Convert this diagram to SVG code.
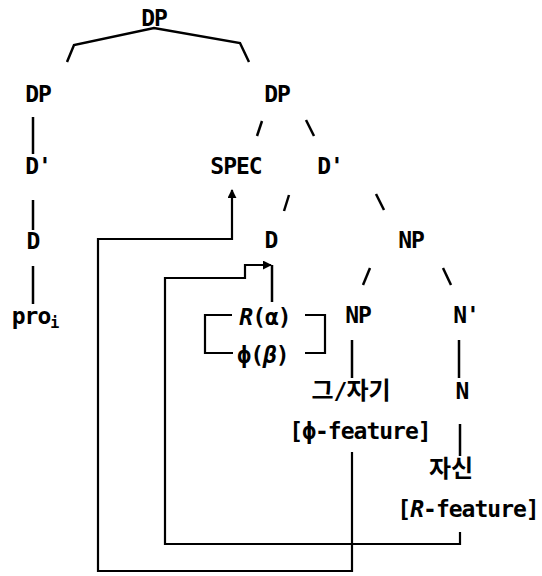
<svg xmlns="http://www.w3.org/2000/svg" width="542" height="576" viewBox="0 0 542 576">
<defs>
<style>
.t{font-family:"DejaVu Sans Mono","Noto Sans CJK KR",monospace;font-weight:bold;font-size:23px;letter-spacing:-1px;fill:#000;text-anchor:middle}
.k{font-family:"Noto Sans CJK KR",sans-serif;font-size:24px;font-weight:bold;letter-spacing:0}
.i{font-style:italic}
.e{fill:none;stroke:#000;stroke-width:2.5;stroke-linecap:butt}
.c{fill:none;stroke:#000;stroke-width:2.2;stroke-linejoin:miter}
</style>
<marker id="ah" viewBox="0 0 10 10" refX="9" refY="5" markerWidth="9" markerHeight="9" markerUnits="userSpaceOnUse" orient="auto">
<path d="M0,0 L10,5 L0,10 z" fill="#000"/>
</marker>
</defs>
<rect width="542" height="576" fill="#fff"/>

<g id="edges">
<polyline class="e" points="67,62 74,45 154,28 240,43 249,62"/>
<line class="e" x1="33" y1="117" x2="33" y2="154"/>
<line class="e" x1="33" y1="200" x2="33" y2="230"/>
<line class="e" x1="33" y1="266" x2="33" y2="304"/>
<line class="e" x1="262" y1="121" x2="257" y2="136"/>
<line class="e" x1="306" y1="120" x2="314" y2="136"/>
<line class="e" x1="289" y1="195" x2="284" y2="211"/>
<line class="e" x1="376" y1="194" x2="384" y2="210"/>
<line class="e" x1="370" y1="268" x2="363" y2="285"/>
<line class="e" x1="443" y1="268" x2="451" y2="285"/>
<line class="e" x1="272" y1="265" x2="272" y2="302"/>
<line class="e" x1="352" y1="340" x2="352" y2="378"/>
<line class="e" x1="459" y1="340" x2="459" y2="378"/>
<line class="e" x1="460" y1="424" x2="460" y2="456"/>
<polyline class="c" points="232,315 205,315 205,353 233,353"/>
<polyline class="c" points="305,315 325,315 325,353 305,353"/>
</g>

<g id="connectors">
<polyline class="c" points="352,452 352,571 98,571 98,239 232,239 232,190" marker-end="url(#ah)"/>
<polyline class="c" points="460,532 460,544 165,544 165,278 245,278 245,265 271,265" marker-end="url(#ah)"/>
</g>

<g id="dp-top"><text class="t" x="154" y="26">DP</text></g>
<g id="dp-left"><text class="t" x="38" y="102">DP</text></g>
<g id="dbar-left"><text class="t" x="38" y="174">D'</text></g>
<g id="d-left"><text class="t" x="33" y="249">D</text></g>
<g id="pro"><text class="t" x="35" y="324">pro<tspan font-size="15" dy="4">i</tspan></text></g>
<g id="dp-right"><text class="t" x="277" y="102">DP</text></g>
<g id="spec"><text class="t" x="236" y="174">SPEC</text></g>
<g id="dbar-right"><text class="t" x="330" y="174">D'</text></g>
<g id="d-right"><text class="t" x="271" y="248">D</text></g>
<g id="np-top"><text class="t" x="411" y="248">NP</text></g>
<g id="features"><text class="t" x="265" y="325"><tspan class="i">R</tspan>(α)</text>
<text class="t" x="263" y="363">ϕ(<tspan class="i">β</tspan>)</text></g>
<g id="np-low"><text class="t" x="358" y="323">NP</text></g>
<g id="nbar"><text class="t" x="466" y="323">N'</text></g>
<g id="geu"><text class="t" x="351" y="399"><tspan class="k">그</tspan>/<tspan class="k">자기</tspan></text></g>
<g id="n"><text class="t" x="462" y="399">N</text></g>
<g id="phi-feat"><text class="t" x="360" y="439">[ϕ-feature]</text></g>
<g id="jasin"><text class="t" x="451" y="477"><tspan class="k">자신</tspan></text></g>
<g id="r-feat"><text class="t" x="468" y="517">[<tspan class="i">R</tspan>-feature]</text></g>
</svg>
